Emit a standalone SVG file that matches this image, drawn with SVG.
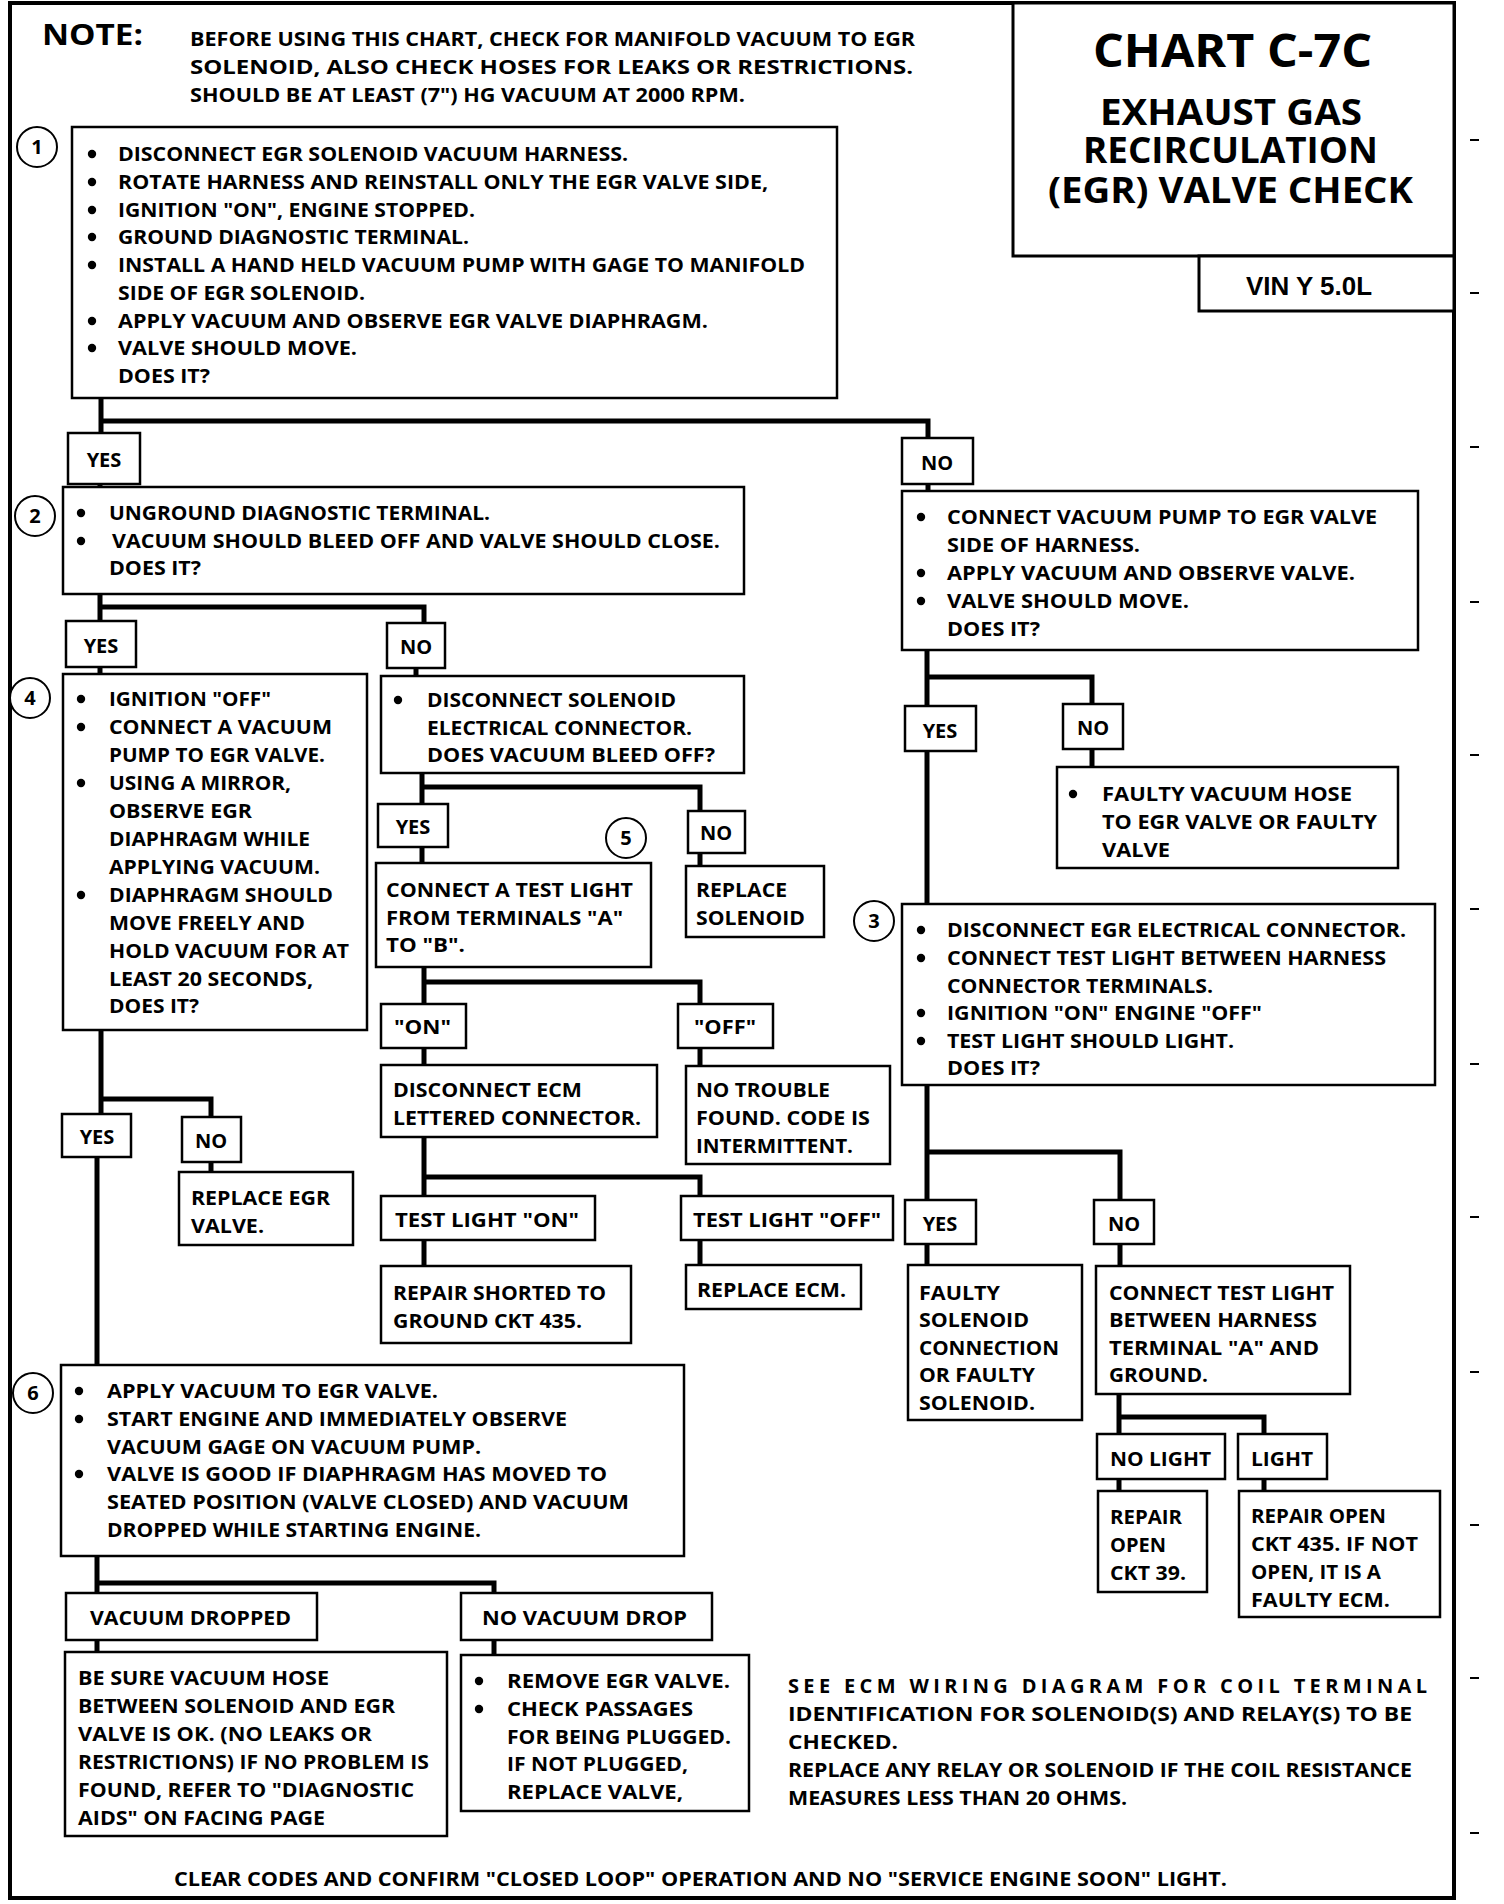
<svg xmlns="http://www.w3.org/2000/svg" width="1504" height="1904" viewBox="0 0 1504 1904">
<style>
.bg{fill:#fff}
.frame{fill:none;stroke:#000;stroke-width:4}
.b{fill:#fff;stroke:#000;stroke-width:2.5}
.t{font-family:"Open Sans","Liberation Sans",sans-serif;font-weight:bold;font-size:20px;fill:#000}
.s{font-size:19px}
.h1{font-size:47px}
.h2{font-size:35px}
.nt{font-size:28px}
.m{text-anchor:middle}
.c{fill:none;stroke:#000;stroke-width:5;stroke-linejoin:miter;stroke-linecap:butt}
.num{fill:#fff;stroke:#000;stroke-width:2}
.dot{fill:#000}
.tick{stroke:#000;stroke-width:2}
</style>
<defs>
<circle id="bul" r="4.2" class="dot"/>
</defs>
<rect x="0" y="0" width="1504" height="1904" class="bg"/>
<rect x="10" y="3" width="1444" height="1895" class="frame"/>
<g id="ticks">
<line class="tick" x1="1470" y1="140" x2="1479" y2="140"/>
<line class="tick" x1="1470" y1="293" x2="1479" y2="293"/>
<line class="tick" x1="1470" y1="447" x2="1479" y2="447"/>
<line class="tick" x1="1470" y1="602" x2="1479" y2="602"/>
<line class="tick" x1="1470" y1="755" x2="1479" y2="755"/>
<line class="tick" x1="1470" y1="909" x2="1479" y2="909"/>
<line class="tick" x1="1470" y1="1064" x2="1479" y2="1064"/>
<line class="tick" x1="1470" y1="1217" x2="1479" y2="1217"/>
<line class="tick" x1="1470" y1="1372" x2="1479" y2="1372"/>
<line class="tick" x1="1470" y1="1525" x2="1479" y2="1525"/>
<line class="tick" x1="1470" y1="1678" x2="1479" y2="1678"/>
<line class="tick" x1="1470" y1="1833" x2="1479" y2="1833"/>
</g>

<g id="connectors">
<path class="c" d="M101,398 V433 M101,421 H928 V438"/>
<path class="c" d="M100,484 V487"/>
<path class="c" d="M100,594 V621 M100,607 H424 V623"/>
<path class="c" d="M100,667 V674"/>
<path class="c" d="M416,668 V676"/>
<path class="c" d="M422,773 V863 M422,787 H700 V811"/>
<path class="c" d="M700,853 V866"/>
<path class="c" d="M424,967 V1004 M424,982 H700 V1004"/>
<path class="c" d="M424,1048 V1065 M700,1048 V1066"/>
<path class="c" d="M424,1137 V1196 M424,1177 H700 V1196"/>
<path class="c" d="M424,1240 V1266 M700,1240 V1265"/>
<path class="c" d="M101,1030 V1114 M101,1099 H211 V1172"/>
<path class="c" d="M97,1157 V1365"/>
<path class="c" d="M97,1556 V1652 M97,1583 H494 V1655"/>
<path class="c" d="M928,484 V491"/>
<path class="c" d="M927,650 V904 M927,677 H1092 V767"/>
<path class="c" d="M927,1085 V1265 M927,1152 H1120 V1266"/>
<path class="c" d="M1119,1394 V1491 M1119,1417 H1264 V1491"/>
</g>

<g id="note">
<text class="t nt" x="42" y="45" textLength="101" lengthAdjust="spacingAndGlyphs">NOTE:</text>
<text class="t s" x="190" y="46" textLength="725" lengthAdjust="spacingAndGlyphs">BEFORE USING THIS CHART, CHECK FOR MANIFOLD VACUUM TO EGR</text>
<text class="t s" x="190" y="74" textLength="723" lengthAdjust="spacingAndGlyphs">SOLENOID, ALSO CHECK HOSES FOR LEAKS OR RESTRICTIONS.</text>
<text class="t s" x="190" y="102" textLength="555" lengthAdjust="spacingAndGlyphs">SHOULD BE AT LEAST (7") HG VACUUM AT 2000 RPM.</text>
</g>

<g id="title">
<rect x="1013" y="3" width="441" height="253" fill="#fff" stroke="#000" stroke-width="3"/>
<text class="t h1" x="1093" y="67" textLength="279" lengthAdjust="spacingAndGlyphs">CHART C-7C</text>
<text class="t h2" x="1100" y="125" textLength="262" lengthAdjust="spacingAndGlyphs">EXHAUST GAS</text>
<text class="t h2" x="1083" y="163" textLength="295" lengthAdjust="spacingAndGlyphs">RECIRCULATION</text>
<text class="t h2" x="1048" y="203" textLength="365" lengthAdjust="spacingAndGlyphs">(EGR) VALVE CHECK</text>
</g>
<g id="vin">
<rect x="1199" y="256" width="255" height="55" fill="#fff" stroke="#000" stroke-width="3"/>
<text x="1246" y="295" font-family="Liberation Sans, Arial, sans-serif" font-weight="bold" font-size="25" textLength="126" lengthAdjust="spacingAndGlyphs">VIN Y 5.0L</text>
</g>

<g id="step1">
<rect class="b" x="72" y="127" width="765" height="271"/>
<circle class="num" cx="37" cy="147" r="20"/><text class="t m" x="37" y="154">1</text>
<use href="#bul" x="92" y="154"/><use href="#bul" x="92" y="182"/><use href="#bul" x="92" y="210"/><use href="#bul" x="92" y="237"/><use href="#bul" x="92" y="265"/><use href="#bul" x="92" y="321"/><use href="#bul" x="92" y="348"/>
<text class="t" x="118" y="161" textLength="510" lengthAdjust="spacingAndGlyphs">DISCONNECT EGR SOLENOID VACUUM HARNESS.</text>
<text class="t" x="118" y="189" textLength="650" lengthAdjust="spacingAndGlyphs">ROTATE HARNESS AND REINSTALL ONLY THE EGR VALVE SIDE,</text>
<text class="t" x="118" y="217" textLength="357" lengthAdjust="spacingAndGlyphs">IGNITION "ON", ENGINE STOPPED.</text>
<text class="t" x="118" y="244" textLength="351" lengthAdjust="spacingAndGlyphs">GROUND DIAGNOSTIC TERMINAL.</text>
<text class="t" x="118" y="272" textLength="687" lengthAdjust="spacingAndGlyphs">INSTALL A HAND HELD VACUUM PUMP WITH GAGE TO MANIFOLD</text>
<text class="t" x="118" y="300" textLength="247" lengthAdjust="spacingAndGlyphs">SIDE OF EGR SOLENOID.</text>
<text class="t" x="118" y="328" textLength="590" lengthAdjust="spacingAndGlyphs">APPLY VACUUM AND OBSERVE EGR VALVE DIAPHRAGM.</text>
<text class="t" x="118" y="355" textLength="239" lengthAdjust="spacingAndGlyphs">VALVE SHOULD MOVE.</text>
<text class="t" x="118" y="383" textLength="92" lengthAdjust="spacingAndGlyphs">DOES IT?</text>
</g>

<g id="yes1"><rect class="b" x="68" y="433" width="72" height="51"/><text class="t m" x="104" y="467">YES</text></g>
<g id="no1"><rect class="b" x="902" y="438" width="71" height="46"/><text class="t m" x="937" y="470">NO</text></g>

<g id="step2">
<rect class="b" x="63" y="487" width="681" height="107"/>
<circle class="num" cx="35" cy="516" r="20"/><text class="t m" x="35" y="523">2</text>
<use href="#bul" x="81" y="513"/><use href="#bul" x="81" y="541"/>
<text class="t" x="109" y="520" textLength="381" lengthAdjust="spacingAndGlyphs">UNGROUND DIAGNOSTIC TERMINAL.</text>
<text class="t" x="112" y="548" textLength="608" lengthAdjust="spacingAndGlyphs">VACUUM SHOULD BLEED OFF AND VALVE SHOULD CLOSE.</text>
<text class="t" x="109" y="575" textLength="92" lengthAdjust="spacingAndGlyphs">DOES IT?</text>
</g>

<g id="yes2"><rect class="b" x="66" y="621" width="70" height="46"/><text class="t m" x="101" y="653">YES</text></g>
<g id="no2"><rect class="b" x="387" y="623" width="58" height="45"/><text class="t m" x="416" y="654">NO</text></g>

<g id="step4">
<rect class="b" x="63" y="674" width="304" height="356"/>
<circle class="num" cx="30" cy="698" r="20"/><text class="t m" x="30" y="705">4</text>
<use href="#bul" x="81" y="699"/><use href="#bul" x="81" y="727"/><use href="#bul" x="81" y="783"/><use href="#bul" x="81" y="895"/>
<text class="t" x="109" y="706" textLength="162" lengthAdjust="spacingAndGlyphs">IGNITION "OFF"</text>
<text class="t" x="109" y="734" textLength="223" lengthAdjust="spacingAndGlyphs">CONNECT A VACUUM</text>
<text class="t" x="109" y="762" textLength="216" lengthAdjust="spacingAndGlyphs">PUMP TO EGR VALVE.</text>
<text class="t" x="109" y="790" textLength="182" lengthAdjust="spacingAndGlyphs">USING A MIRROR,</text>
<text class="t" x="109" y="818" textLength="143" lengthAdjust="spacingAndGlyphs">OBSERVE EGR</text>
<text class="t" x="109" y="846" textLength="201" lengthAdjust="spacingAndGlyphs">DIAPHRAGM WHILE</text>
<text class="t" x="109" y="874" textLength="211" lengthAdjust="spacingAndGlyphs">APPLYING VACUUM.</text>
<text class="t" x="109" y="902" textLength="224" lengthAdjust="spacingAndGlyphs">DIAPHRAGM SHOULD</text>
<text class="t" x="109" y="930" textLength="196" lengthAdjust="spacingAndGlyphs">MOVE FREELY AND</text>
<text class="t" x="109" y="958" textLength="240" lengthAdjust="spacingAndGlyphs">HOLD VACUUM FOR AT</text>
<text class="t" x="109" y="986" textLength="204" lengthAdjust="spacingAndGlyphs">LEAST 20 SECONDS,</text>
<text class="t" x="109" y="1013" textLength="90" lengthAdjust="spacingAndGlyphs">DOES IT?</text>
</g>

<g id="solenoid-check">
<rect class="b" x="381" y="676" width="363" height="97"/>
<use href="#bul" x="398" y="700"/>
<text class="t" x="427" y="707" textLength="249" lengthAdjust="spacingAndGlyphs">DISCONNECT SOLENOID</text>
<text class="t" x="427" y="735" textLength="265" lengthAdjust="spacingAndGlyphs">ELECTRICAL CONNECTOR.</text>
<text class="t" x="427" y="762" textLength="288" lengthAdjust="spacingAndGlyphs">DOES VACUUM BLEED OFF?</text>
</g>

<g id="yes3"><rect class="b" x="378" y="804" width="70" height="43"/><text class="t m" x="413" y="834">YES</text></g>
<g id="no3"><rect class="b" x="688" y="811" width="57" height="42"/><text class="t m" x="716" y="840">NO</text></g>
<g id="step5-label"><circle class="num" cx="626" cy="838" r="20"/><text class="t m" x="626" y="845">5</text></g>

<g id="test-light-ab">
<rect class="b" x="376" y="863" width="275" height="104"/>
<text class="t" x="386" y="897" textLength="247" lengthAdjust="spacingAndGlyphs">CONNECT A TEST LIGHT</text>
<text class="t" x="386" y="925" textLength="237" lengthAdjust="spacingAndGlyphs">FROM TERMINALS "A"</text>
<text class="t" x="386" y="952" textLength="79" lengthAdjust="spacingAndGlyphs">TO "B".</text>
</g>
<g id="replace-solenoid">
<rect class="b" x="686" y="866" width="138" height="71"/>
<text class="t" x="696" y="897" textLength="91" lengthAdjust="spacingAndGlyphs">REPLACE</text>
<text class="t" x="696" y="925" textLength="109" lengthAdjust="spacingAndGlyphs">SOLENOID</text>
</g>

<g id="on"><rect class="b" x="381" y="1004" width="85" height="44"/><text class="t" x="394" y="1034" textLength="57" lengthAdjust="spacingAndGlyphs">"ON"</text></g>
<g id="off"><rect class="b" x="678" y="1004" width="95" height="44"/><text class="t" x="694" y="1034" textLength="62" lengthAdjust="spacingAndGlyphs">"OFF"</text></g>

<g id="disconnect-ecm">
<rect class="b" x="381" y="1065" width="276" height="72"/>
<text class="t" x="393" y="1097" textLength="189" lengthAdjust="spacingAndGlyphs">DISCONNECT ECM</text>
<text class="t" x="393" y="1125" textLength="248" lengthAdjust="spacingAndGlyphs">LETTERED CONNECTOR.</text>
</g>
<g id="no-trouble">
<rect class="b" x="686" y="1066" width="204" height="98"/>
<text class="t" x="696" y="1097" textLength="134" lengthAdjust="spacingAndGlyphs">NO TROUBLE</text>
<text class="t" x="696" y="1125" textLength="174" lengthAdjust="spacingAndGlyphs">FOUND.  CODE IS</text>
<text class="t" x="696" y="1153" textLength="157" lengthAdjust="spacingAndGlyphs">INTERMITTENT.</text>
</g>

<g id="tl-on"><rect class="b" x="381" y="1196" width="214" height="44"/><text class="t" x="395" y="1227" textLength="184" lengthAdjust="spacingAndGlyphs">TEST LIGHT  "ON"</text></g>
<g id="tl-off"><rect class="b" x="681" y="1196" width="212" height="44"/><text class="t" x="693" y="1227" textLength="188" lengthAdjust="spacingAndGlyphs">TEST LIGHT "OFF"</text></g>

<g id="repair-shorted">
<rect class="b" x="381" y="1266" width="250" height="77"/>
<text class="t" x="393" y="1300" textLength="213" lengthAdjust="spacingAndGlyphs">REPAIR SHORTED TO</text>
<text class="t" x="393" y="1328" textLength="189" lengthAdjust="spacingAndGlyphs">GROUND CKT 435.</text>
</g>
<g id="replace-ecm">
<rect class="b" x="686" y="1265" width="175" height="44"/>
<text class="t" x="697" y="1297" textLength="149" lengthAdjust="spacingAndGlyphs">REPLACE ECM.</text>
</g>

<g id="yes4"><rect class="b" x="62" y="1114" width="69" height="43"/><text class="t m" x="97" y="1144">YES</text></g>
<g id="no4"><rect class="b" x="182" y="1117" width="59" height="45"/><text class="t m" x="211" y="1148">NO</text></g>
<g id="replace-egr">
<rect class="b" x="179" y="1172" width="174" height="73"/>
<text class="t" x="191" y="1205" textLength="139" lengthAdjust="spacingAndGlyphs">REPLACE EGR</text>
<text class="t" x="191" y="1233" textLength="73" lengthAdjust="spacingAndGlyphs">VALVE.</text>
</g>

<g id="step6">
<rect class="b" x="61" y="1365" width="623" height="191"/>
<circle class="num" cx="33" cy="1393" r="20"/><text class="t m" x="33" y="1400">6</text>
<use href="#bul" x="79" y="1391"/><use href="#bul" x="79" y="1419"/><use href="#bul" x="79" y="1474"/>
<text class="t" x="107" y="1398" textLength="331" lengthAdjust="spacingAndGlyphs">APPLY VACUUM TO EGR VALVE.</text>
<text class="t" x="107" y="1426" textLength="460" lengthAdjust="spacingAndGlyphs">START ENGINE AND IMMEDIATELY OBSERVE</text>
<text class="t" x="107" y="1454" textLength="374" lengthAdjust="spacingAndGlyphs">VACUUM GAGE ON VACUUM PUMP.</text>
<text class="t" x="107" y="1481" textLength="500" lengthAdjust="spacingAndGlyphs">VALVE IS GOOD IF DIAPHRAGM  HAS MOVED TO</text>
<text class="t" x="107" y="1509" textLength="522" lengthAdjust="spacingAndGlyphs">SEATED POSITION (VALVE CLOSED) AND VACUUM</text>
<text class="t" x="107" y="1537" textLength="374" lengthAdjust="spacingAndGlyphs">DROPPED WHILE STARTING ENGINE.</text>
</g>

<g id="vacuum-dropped"><rect class="b" x="66" y="1593" width="251" height="47"/><text class="t" x="90" y="1625" textLength="201" lengthAdjust="spacingAndGlyphs">VACUUM DROPPED</text></g>
<g id="no-vacuum-drop"><rect class="b" x="461" y="1593" width="251" height="47"/><text class="t" x="482" y="1625" textLength="205" lengthAdjust="spacingAndGlyphs">NO  VACUUM DROP</text></g>

<g id="be-sure">
<rect class="b" x="65" y="1652" width="382" height="184"/>
<text class="t" x="78" y="1685" textLength="251" lengthAdjust="spacingAndGlyphs">BE SURE VACUUM HOSE</text>
<text class="t" x="78" y="1713" textLength="317" lengthAdjust="spacingAndGlyphs">BETWEEN SOLENOID AND EGR</text>
<text class="t" x="78" y="1741" textLength="294" lengthAdjust="spacingAndGlyphs">VALVE IS OK.  (NO LEAKS OR</text>
<text class="t" x="78" y="1769" textLength="351" lengthAdjust="spacingAndGlyphs">RESTRICTIONS)  IF NO PROBLEM IS</text>
<text class="t" x="78" y="1797" textLength="336" lengthAdjust="spacingAndGlyphs">FOUND, REFER TO "DIAGNOSTIC</text>
<text class="t" x="78" y="1825" textLength="247" lengthAdjust="spacingAndGlyphs">AIDS" ON FACING PAGE</text>
</g>

<g id="remove-egr">
<rect class="b" x="461" y="1655" width="288" height="156"/>
<use href="#bul" x="479" y="1681"/><use href="#bul" x="479" y="1709"/>
<text class="t" x="507" y="1688" textLength="223" lengthAdjust="spacingAndGlyphs">REMOVE EGR  VALVE.</text>
<text class="t" x="507" y="1716" textLength="186" lengthAdjust="spacingAndGlyphs">CHECK PASSAGES</text>
<text class="t" x="507" y="1744" textLength="224" lengthAdjust="spacingAndGlyphs">FOR BEING PLUGGED.</text>
<text class="t" x="507" y="1771" textLength="181" lengthAdjust="spacingAndGlyphs">IF NOT PLUGGED,</text>
<text class="t" x="507" y="1799" textLength="176" lengthAdjust="spacingAndGlyphs">REPLACE  VALVE,</text>
</g>

<g id="ecm-note">
<text class="t" x="788" y="1693" textLength="639" lengthAdjust="spacing">SEE ECM WIRING DIAGRAM FOR COIL TERMINAL</text>
<text class="t" x="788" y="1721" textLength="624" lengthAdjust="spacingAndGlyphs">IDENTIFICATION FOR SOLENOID(S) AND RELAY(S) TO BE</text>
<text class="t" x="788" y="1749" textLength="110" lengthAdjust="spacingAndGlyphs">CHECKED.</text>
<text class="t" x="788" y="1777" textLength="624" lengthAdjust="spacingAndGlyphs">REPLACE ANY RELAY OR SOLENOID IF THE COIL RESISTANCE</text>
<text class="t" x="788" y="1805" textLength="339" lengthAdjust="spacingAndGlyphs">MEASURES LESS THAN 20 OHMS.</text>
</g>

<g id="footer">
<text class="t" x="174" y="1886" textLength="1053" lengthAdjust="spacingAndGlyphs">CLEAR CODES AND CONFIRM "CLOSED LOOP"  OPERATION AND NO "SERVICE ENGINE SOON" LIGHT.</text>
</g>

<g id="vacuum-pump-check">
<rect class="b" x="902" y="491" width="516" height="159"/>
<use href="#bul" x="921" y="517"/><use href="#bul" x="921" y="573"/><use href="#bul" x="921" y="601"/>
<text class="t" x="947" y="524" textLength="430" lengthAdjust="spacingAndGlyphs">CONNECT VACUUM PUMP TO EGR VALVE</text>
<text class="t" x="947" y="552" textLength="193" lengthAdjust="spacingAndGlyphs">SIDE OF HARNESS.</text>
<text class="t" x="947" y="580" textLength="408" lengthAdjust="spacingAndGlyphs">APPLY VACUUM AND OBSERVE VALVE.</text>
<text class="t" x="947" y="608" textLength="242" lengthAdjust="spacingAndGlyphs">VALVE SHOULD MOVE.</text>
<text class="t" x="947" y="636" textLength="93" lengthAdjust="spacingAndGlyphs">DOES IT?</text>
</g>

<g id="yes5"><rect class="b" x="905" y="706" width="71" height="45"/><text class="t m" x="940" y="738">YES</text></g>
<g id="no5"><rect class="b" x="1063" y="704" width="60" height="45"/><text class="t m" x="1093" y="735">NO</text></g>

<g id="faulty-hose">
<rect class="b" x="1057" y="767" width="341" height="101"/>
<use href="#bul" x="1073" y="794"/>
<text class="t" x="1102" y="801" textLength="250" lengthAdjust="spacingAndGlyphs">FAULTY VACUUM HOSE</text>
<text class="t" x="1102" y="829" textLength="275" lengthAdjust="spacingAndGlyphs">TO EGR VALVE OR FAULTY</text>
<text class="t" x="1102" y="857" textLength="68" lengthAdjust="spacingAndGlyphs">VALVE</text>
</g>

<g id="step3">
<rect class="b" x="902" y="904" width="533" height="181"/>
<circle class="num" cx="874" cy="921" r="20"/><text class="t m" x="874" y="928">3</text>
<use href="#bul" x="921" y="930"/><use href="#bul" x="921" y="958"/><use href="#bul" x="921" y="1013"/><use href="#bul" x="921" y="1041"/>
<text class="t" x="947" y="937" textLength="459" lengthAdjust="spacingAndGlyphs">DISCONNECT EGR ELECTRICAL CONNECTOR.</text>
<text class="t" x="947" y="965" textLength="439" lengthAdjust="spacingAndGlyphs">CONNECT TEST LIGHT BETWEEN HARNESS</text>
<text class="t" x="947" y="993" textLength="266" lengthAdjust="spacingAndGlyphs">CONNECTOR TERMINALS.</text>
<text class="t" x="947" y="1020" textLength="315" lengthAdjust="spacingAndGlyphs">IGNITION "ON" ENGINE "OFF"</text>
<text class="t" x="947" y="1048" textLength="287" lengthAdjust="spacingAndGlyphs">TEST LIGHT SHOULD LIGHT.</text>
<text class="t" x="947" y="1075" textLength="93" lengthAdjust="spacingAndGlyphs">DOES IT?</text>
</g>

<g id="yes6"><rect class="b" x="905" y="1200" width="71" height="44"/><text class="t m" x="940" y="1231">YES</text></g>
<g id="no6"><rect class="b" x="1094" y="1200" width="60" height="44"/><text class="t m" x="1124" y="1231">NO</text></g>

<g id="faulty-solenoid">
<rect class="b" x="908" y="1265" width="174" height="155"/>
<text class="t" x="919" y="1300" textLength="81" lengthAdjust="spacingAndGlyphs">FAULTY</text>
<text class="t" x="919" y="1327" textLength="110" lengthAdjust="spacingAndGlyphs">SOLENOID</text>
<text class="t" x="919" y="1355" textLength="140" lengthAdjust="spacingAndGlyphs">CONNECTION</text>
<text class="t" x="919" y="1382" textLength="116" lengthAdjust="spacingAndGlyphs">OR FAULTY</text>
<text class="t" x="919" y="1410" textLength="116" lengthAdjust="spacingAndGlyphs">SOLENOID.</text>
</g>

<g id="test-light-ground">
<rect class="b" x="1096" y="1266" width="254" height="128"/>
<text class="t" x="1109" y="1300" textLength="225" lengthAdjust="spacingAndGlyphs">CONNECT TEST LIGHT</text>
<text class="t" x="1109" y="1327" textLength="208" lengthAdjust="spacingAndGlyphs">BETWEEN HARNESS</text>
<text class="t" x="1109" y="1355" textLength="210" lengthAdjust="spacingAndGlyphs">TERMINAL "A" AND</text>
<text class="t" x="1109" y="1382" textLength="99" lengthAdjust="spacingAndGlyphs">GROUND.</text>
</g>

<g id="no-light"><rect class="b" x="1097" y="1434" width="128" height="45"/><text class="t" x="1110" y="1466" textLength="101" lengthAdjust="spacingAndGlyphs">NO LIGHT</text></g>
<g id="light"><rect class="b" x="1238" y="1434" width="89" height="45"/><text class="t" x="1251" y="1466" textLength="62" lengthAdjust="spacingAndGlyphs">LIGHT</text></g>

<g id="repair-39">
<rect class="b" x="1098" y="1491" width="109" height="101"/>
<text class="t" x="1110" y="1524" textLength="72" lengthAdjust="spacingAndGlyphs">REPAIR</text>
<text class="t" x="1110" y="1552" textLength="56" lengthAdjust="spacingAndGlyphs">OPEN</text>
<text class="t" x="1110" y="1580" textLength="76" lengthAdjust="spacingAndGlyphs">CKT 39.</text>
</g>
<g id="repair-435">
<rect class="b" x="1239" y="1491" width="201" height="126"/>
<text class="t" x="1251" y="1523" textLength="135" lengthAdjust="spacingAndGlyphs">REPAIR OPEN</text>
<text class="t" x="1251" y="1551" textLength="167" lengthAdjust="spacingAndGlyphs">CKT 435.  IF NOT</text>
<text class="t" x="1251" y="1579" textLength="130" lengthAdjust="spacingAndGlyphs">OPEN, IT IS A</text>
<text class="t" x="1251" y="1607" textLength="139" lengthAdjust="spacingAndGlyphs">FAULTY ECM.</text>
</g>
</svg>
